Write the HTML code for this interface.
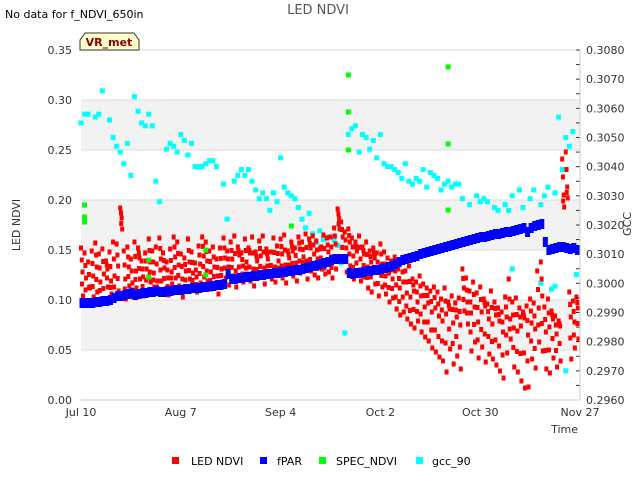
<!DOCTYPE html>
<html><head><meta charset="utf-8"><style>
body{margin:0;background:#fff;font-family:"DejaVu Sans","Liberation Sans",sans-serif;}
svg text{font-family:"DejaVu Sans","Liberation Sans",sans-serif;}
</style></head><body>
<svg id="c" width="640" height="480" viewBox="0 0 640 480" xmlns="http://www.w3.org/2000/svg">
<rect width="640" height="480" fill="#fff"/>
<text x="5" y="18" font-size="11" fill="#000">No data for f_NDVI_650in</text>
<text x="318" y="14" font-size="13" fill="#555" text-anchor="middle">LED NDVI</text>
<g id="bands"></g>
<g id="marks"></g>
<g id="axes"></g>
<path d="M80,50 L80,40 L85,33 L134,33 L139,40 L139,50 Z" fill="#ffffcc" stroke="#333" stroke-width="1"/>
<text x="109" y="46" font-size="11" font-weight="bold" fill="#8b0000" text-anchor="middle">VR_met</text>
<text transform="translate(20,225) rotate(-90)" font-size="11" fill="#333" text-anchor="middle">LED NDVI</text>
<text transform="translate(631,224) rotate(-90)" font-size="11" fill="#333" text-anchor="middle">GCC</text>
<text x="578" y="433" font-size="11" fill="#333" text-anchor="end">Time</text>
<g font-size="11" fill="#000">
<rect x="172" y="457" width="7" height="7" fill="#ff0000"/>
<text x="191" y="465">LED NDVI</text>
<rect x="260" y="457" width="7" height="7" fill="#0000ff"/>
<text x="277" y="465">fPAR</text>
<rect x="319" y="457" width="7" height="7" fill="#00ff00"/>
<text x="336" y="465">SPEC_NDVI</text>
<rect x="416" y="457" width="7" height="7" fill="#00ffff"/>
<text x="432" y="465">gcc_90</text>
</g>
</svg>
<script>
const xTickLabels=["Jul 10","Aug 7","Sep 4","Oct 2","Oct 30","Nov 27"];
const xTickDays=[0,28,56,84,112,140];
const yTicks=[0,0.05,0.1,0.15,0.2,0.25,0.3,0.35];
const y2Ticks=[0.2960,0.2970,0.2980,0.2990,0.3000,0.3010,0.3020,0.3030,0.3040,0.3050,0.3060,0.3070,0.3080];
const ledHi=[.152,.147,.138,.149,.157,.146,.151,.139,.148,.158,.156,.192,.149,.153,.141,.158,.152,.139,.147,.161,.149,.153,.162,.147,.138,.151,.163,.158,.146,.142,.161,.148,.137,.154,.163,.158,.149,.153,.141,.152,.162,.149,.158,.164,.153,.147,.161,.152,.163,.148,.159,.164,.151,.148,.162,.154,.161,.165,.149,.158,.152,.163,.158,.166,.161,.164,.159,.151,.165,.162,.163,.172,.191,.178,.168,.171,.162,.158,.164,.153,.158,.149,.152,.147,.156,.148,.142,.139,.143,.131,.138,.129,.134,.121,.118,.124,.116,.112,.109,.113,.108,.101,.112,.098,.104,.097,.102,.131,.122,.109,.118,.107,.113,.101,.096,.109,.098,.092,.088,.103,.121,.098,.102,.092,.088,.094,.101,.097,.129,.138,.093,.101,.089,.084,.079,.241,.248,.108,.099,.103];
const ledMid=[.128,.122,.113,.124,.133,.118,.126,.131,.119,.124,.134,.182,.121,.133,.117,.129,.142,.123,.131,.138,.127,.119,.141,.132,.122,.128,.143,.135,.121,.129,.138,.127,.123,.136,.144,.139,.128,.133,.124,.131,.142,.133,.141,.129,.145,.134,.138,.147,.131,.139,.144,.132,.141,.148,.133,.139,.146,.135,.142,.149,.137,.151,.143,.139,.152,.146,.141,.153,.138,.148,.143,.156,.181,.163,.152,.158,.144,.149,.141,.146,.133,.138,.142,.129,.136,.124,.127,.121,.115,.112,.118,.107,.103,.109,.098,.104,.093,.097,.088,.092,.084,.079,.086,.091,.077,.083,.075,.112,.098,.087,.093,.078,.088,.094,.081,.076,.085,.079,.068,.083,.081,.072,.069,.074,.082,.065,.077,.071,.092,.104,.068,.073,.081,.066,.074,.205,.213,.083,.078,.092];
const ledLo=[.104,.098,.112,.103,.108,.101,.097,.113,.106,.102,.109,.171,.101,.114,.103,.112,.121,.104,.109,.118,.113,.107,.119,.111,.105,.116,.122,.114,.103,.111,.121,.112,.108,.117,.123,.119,.111,.114,.106,.118,.122,.115,.124,.113,.121,.118,.126,.119,.114,.122,.123,.116,.127,.121,.118,.125,.122,.117,.128,.124,.119,.127,.132,.121,.129,.125,.122,.131,.126,.128,.122,.131,.171,.142,.128,.134,.121,.125,.119,.123,.112,.108,.116,.104,.113,.106,.098,.102,.091,.085,.088,.081,.076,.072,.079,.068,.063,.059,.052,.048,.043,.039,.028,.051,.036,.044,.031,.089,.076,.049,.058,.042,.053,.038,.046,.041,.035,.029,.022,.047,.061,.033,.028,.019,.012,.013,.041,.032,.058,.049,.031,.027,.042,.033,.039,.193,.202,.041,.052,.061];
const fparVals=[.097,.097,.097,.097,.098,.098,.099,.099,.100,.102,.104,.104,.105,.106,.107,.105,.106,.107,.107,.108,.108,.109,.108,.108,.109,.109,.110,.110,.110,.111,.111,.112,.112,.112,.113,.113,.114,.114,.115,.115,.116,.126,.121,.121,.122,.122,.123,.123,.124,.124,.125,.125,.126,.126,.127,.127,.128,.128,.129,.129,.130,.130,.131,.132,.133,.134,.135,.136,.137,.138,.140,.141,.141,.141,.141,.127,.126,.127,.127,.128,.129,.129,.130,.130,.131,.132,.133,.134,.136,.138,.140,.141,.142,.143,.144,.146,.147,.148,.149,.150,.151,.152,.153,.154,.155,.156,.157,.158,.159,.160,.161,.162,.163,.163,.164,.165,.166,.166,.167,.168,.168,.169,.170,.171,.172,.168,.172,.174,.175,.176,.158,.150,.151,.152,.153,.153,.152,.151,.152,.150];
const gccData=[[0,.3055],[1,.3058],[2,.3058],[4,.3057],[5,.3058],[6,.3066],[8,.3056],[9,.3050],[10,.3047],[11,.3045],[12,.3041],[13,.3048],[14,.3037],[15,.3064],[16,.3059],[17,.3055],[18,.3054],[19,.3058],[20,.3054],[21,.3035],[22,.3028],[24,.3046],[25,.3048],[26,.3047],[27,.3045],[28,.3051],[29,.3049],[30,.3044],[31,.3048],[32,.3040],[33,.3040],[34,.3040],[35,.3041],[36,.3042],[37,.3042],[38,.3040],[40,.3034],[41,.3022],[43,.3035],[44,.3037],[45,.3039],[46,.3037],[47,.3039],[48,.3035],[49,.3032],[50,.3029],[51,.3031],[52,.3029],[53,.3025],[54,.3031],[55,.3028],[56,.3043],[57,.3033],[58,.3031],[59,.3030],[60,.3029],[61,.3026],[62,.3022],[63,.3019],[64,.3024],[65,.3017],[66,.3014],[67,.3018],[68,.3015],[69,.3016],[71,.3015],[72,.3013],[73,.3007],[74,.2983],[75,.3051],[76,.3053],[77,.3054],[78,.3045],[79,.3051],[80,.3050],[81,.3046],[82,.3049],[83,.3043],[84,.3051],[85,.3041],[86,.3040],[87,.3040],[88,.3039],[89,.3038],[90,.3036],[91,.3041],[92,.3035],[93,.3034],[94,.3036],[95,.3035],[96,.3039],[97,.3033],[98,.3038],[99,.3037],[100,.3036],[101,.3032],[102,.3034],[103,.3035],[104,.3033],[105,.3034],[106,.3034],[107,.3029],[109,.3027],[111,.3030],[112,.3028],[113,.3029],[114,.3028],[116,.3026],[117,.3025],[119,.3027],[120,.3025],[121,.3030],[123,.3032],[124,.3026],[126,.3029],[127,.3032],[129,.3027],[130,.3030],[131,.3033],[133,.3031],[134,.3057],[135,.3039],[136,.3050],[137,.3047],[138,.3052],[121,.3005],[129,.3000],[136,.2970],[133,.2999],[132,.2998],[139,.3003]];
const specDays=[1,1,1,19,19,35,35,59,75,75,75,103,103,103];
const specVals=[.195,.183,.178,.14,.123,.15,.125,.174,.325,.288,.25,.333,.256,.19];

const NS="http://www.w3.org/2000/svg";
const L=81,R=580,T=50,B=400,NDAYS=140;
const xs=d=>L+d*(R-L)/NDAYS;
const ys=v=>B-v/0.35*(B-T);
const y2s=v=>B-(v-0.296)/0.012*(B-T);
function mk(tag,attrs,parent){const e=document.createElementNS(NS,tag);for(const k in attrs)e.setAttribute(k,attrs[k]);parent.appendChild(e);return e;}
const bands=document.getElementById('bands'),marks=document.getElementById('marks'),axes=document.getElementById('axes');
[[0.05,0.10],[0.15,0.20],[0.25,0.30]].forEach(b=>{const r=mk('rect',{x:L,y:ys(b[1]),width:R-L,height:ys(b[0])-ys(b[1]),fill:'#f2f2f2'},bands);

});
yTicks.forEach(v=>{const g=mk('line',{x1:L,x2:R,y1:ys(v),y2:ys(v),stroke:'#ddd','stroke-width':1},bands);


const t=mk('text',{x:L-9,y:ys(v)+4,'font-size':11,fill:'#333','text-anchor':'end'},axes);t.textContent=v.toFixed(2);

});
y2Ticks.forEach((v,i)=>{const y=y2s(v);
const tk=mk('line',{x1:R-4,x2:R,y1:y,y2:y,stroke:'#333'},axes);


if(i<y2Ticks.length-1){const m=mk('line',{x1:R-4,x2:R,y1:y-(B-T)/24,y2:y-(B-T)/24,stroke:'#333'},axes);

}
const t=mk('text',{x:R+6,y:y+4,'font-size':11,fill:'#333'},axes);t.textContent=v.toFixed(4);

});
xTickDays.forEach((d,i)=>{const t=mk('text',{x:xs(d),y:416,'font-size':11,fill:'#333','text-anchor':'middle'},axes);t.textContent=xTickLabels[i];

});
const ax=mk('line',{x1:L,x2:R,y1:B,y2:B,stroke:'#ccc'},axes);


const ar=mk('line',{x1:R,x2:R,y1:T,y2:B,stroke:'#ccc'},axes);


function pt(x,y,c,name,w,h){const r=mk('rect',{x:x-w/2,y:y-h/2,width:w,height:h,fill:c},marks);

}
gccData.forEach(p=>pt(xs(p[0]),y2s(p[1]),'#00ffff','gcc-point',5,5));
for(let d=0;d<ledHi.length;d++){
pt(xs(d),ys(ledHi[d]),'#ff0000','led-ndvi-point',4,5);
pt(xs(d)+1.5,ys(ledMid[d]),'#ff0000','led-ndvi-point',4,5);
pt(xs(d)+0.8,ys((ledHi[d]+ledMid[d])/2),'#ff0000','led-ndvi-point',4,5);
pt(xs(d)+2,ys(ledLo[d]),'#ff0000','led-ndvi-point',4,5);
pt(xs(d)+1,ys((ledMid[d]+ledLo[d])/2),'#ff0000','led-ndvi-point',4,5);}
fparVals.forEach((v,d)=>pt(xs(d)+1,ys(v),'#0000ff','fpar-point',5,10));
specDays.forEach((d,i)=>pt(xs(d),ys(specVals[i]),'#00ff00','spec-ndvi-point',5,5));
</script>
</body></html>
